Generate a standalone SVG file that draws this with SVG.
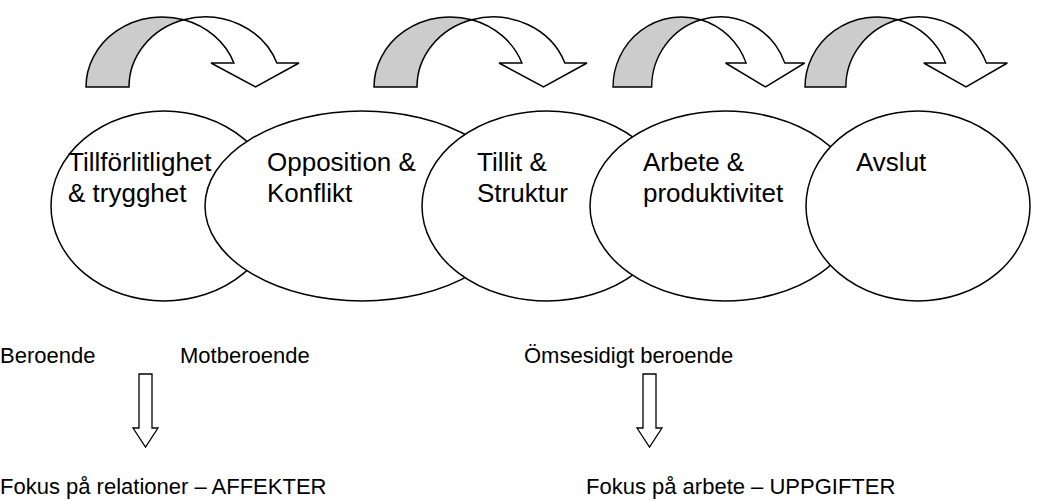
<svg xmlns="http://www.w3.org/2000/svg" width="1037" height="502" viewBox="0 0 1037 502">
<style>
.el{fill:#fff;stroke:#000;stroke-width:1.5}
.back{fill:#cccccc;stroke:#000;stroke-width:1.5;stroke-linejoin:miter}
.front{fill:#fff;stroke:#000;stroke-width:1.5;stroke-linejoin:miter}
.t{font-family:"Liberation Sans",Arial,sans-serif;font-size:26px;fill:#000}
.b{font-family:"Liberation Sans",Arial,sans-serif;font-size:22px;fill:#000}
.da{fill:#fff;stroke:#000;stroke-width:1.3}
</style>
<defs>
<g id="curved">
<path class="back" d="M0,87 A76.3,70 0 0 1 97.8,19.8 A76.3,70 0 0 0 43,87 Z"/>
<path class="front" d="M97.8,19.8 A76.3,70 0 0 1 190.9,63 L213,63 L169.5,87 L125,63 L147.9,63 A76.3,70 0 0 0 97.8,19.8 Z"/>
</g>
<path id="down" d="M0,0 H13 V54 H19 L6.5,73 L-6,54 H0 Z"/>
</defs>
<g id="connectors">
<use href="#curved" transform="translate(86,0)"/>
<use href="#curved" transform="translate(374,0)"/>
<use href="#curved" transform="translate(613,0) scale(0.9,1)"/>
<use href="#curved" transform="translate(805,0) scale(0.95,1)"/>
<use href="#down" class="da" transform="translate(139,374)"/>
<use href="#down" class="da" transform="translate(643,374)"/>
</g>
<g id="node1"><ellipse class="el" cx="164" cy="206" rx="113" ry="95"/></g>
<g id="node2"><ellipse class="el" cx="362" cy="206" rx="157" ry="95"/></g>
<g id="node3"><ellipse class="el" cx="547" cy="206" rx="125" ry="95"/></g>
<g id="node4"><ellipse class="el" cx="725" cy="206" rx="135" ry="95"/></g>
<g id="node5"><ellipse class="el" cx="918" cy="206" rx="112" ry="95"/></g>
<g id="labels">
<text class="t" x="68" y="171">Tillförlitlighet</text>
<text class="t" x="68" y="202">&amp; trygghet</text>
<text class="t" x="267" y="171">Opposition &amp;</text>
<text class="t" x="267" y="202">Konflikt</text>
<text class="t" x="477" y="171">Tillit &amp;</text>
<text class="t" x="477" y="202">Struktur</text>
<text class="t" x="643" y="171">Arbete &amp;</text>
<text class="t" x="643" y="202">produktivitet</text>
<text class="t" x="856" y="171">Avslut</text>
</g>
<g id="bottom">
<text class="b" x="0" y="363">Beroende</text>
<text class="b" x="180" y="363">Motberoende</text>
<text class="b" x="524" y="363">Ömsesidigt beroende</text>
<text class="b" x="0" y="494">Fokus på relationer – AFFEKTER</text>
<text class="b" x="586" y="494">Fokus på arbete – UPPGIFTER</text>
</g>
</svg>
